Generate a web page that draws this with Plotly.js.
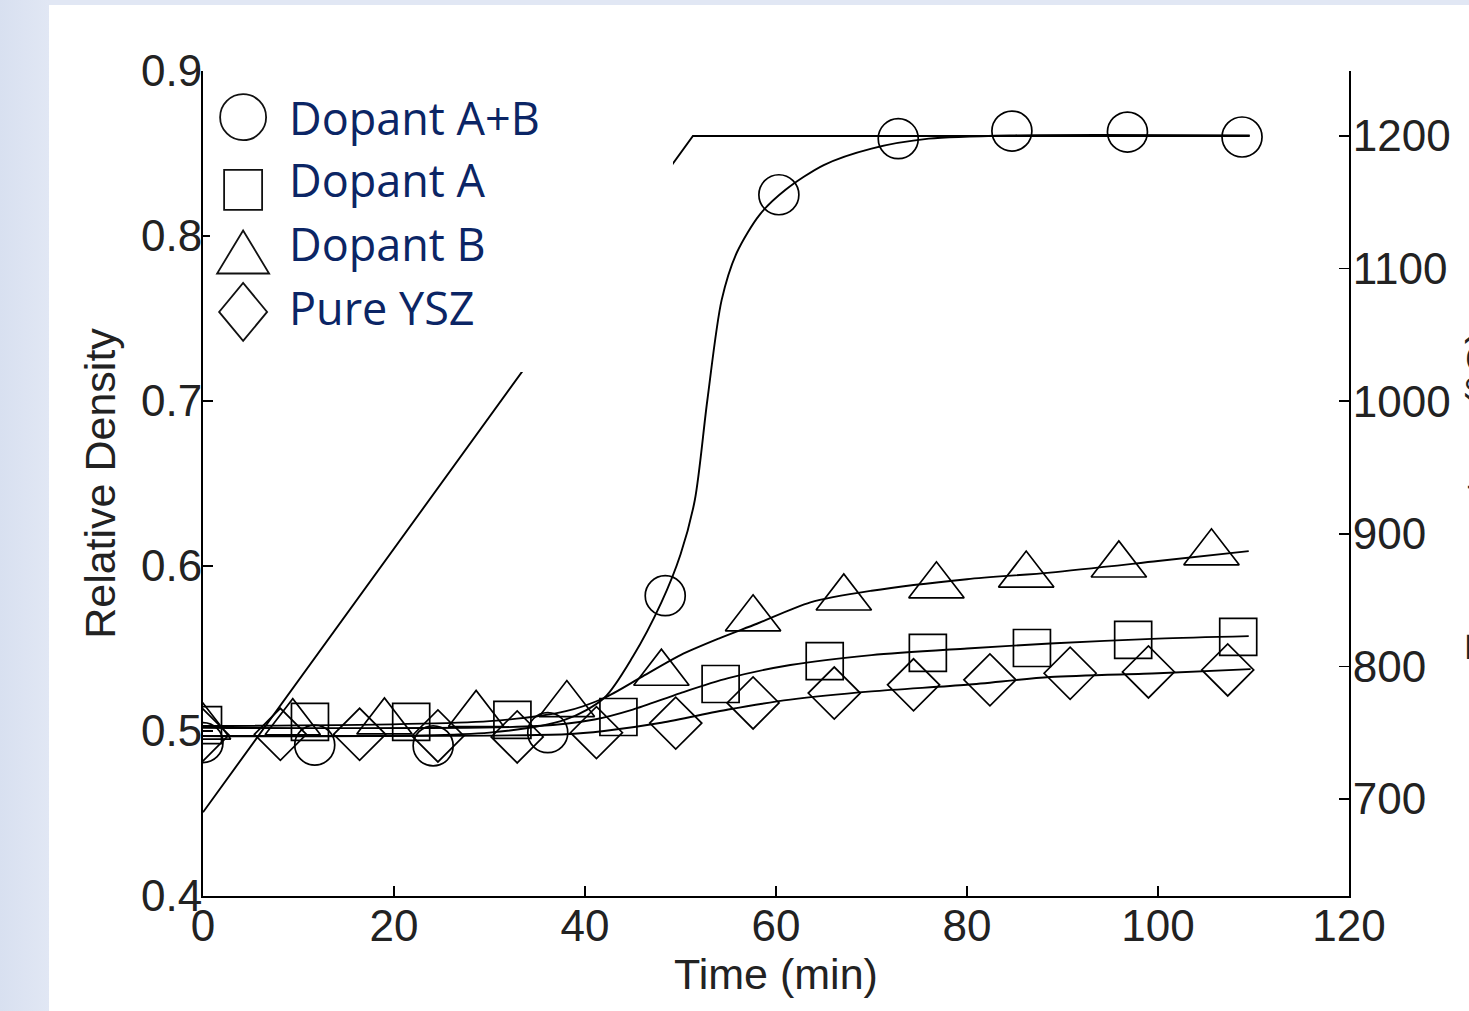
<!DOCTYPE html>
<html><head><meta charset="utf-8">
<script src="https://cdn.plot.ly/plotly-3.0.1.min.js"></script>
<style>
html,body{margin:0;padding:0;width:1469px;height:1011px;overflow:hidden;background:linear-gradient(90deg,#d8e0f0 0px,#e1e7f4 49px);}
#chart{position:absolute;left:49px;top:5px;width:1420px;height:1006px;background:#fff;}
</style></head><body><div id="chart"></div>
<script>
// ---- data ----
const seriesNames = ['Dopant A+B', 'Dopant A', 'Dopant B', 'Pure YSZ'];
const xTicks = [0, 20, 40, 60, 80, 100, 120];
const yTicks = [0.4, 0.5, 0.6, 0.7, 0.8, 0.9];
const tempTicks = [700, 800, 900, 1000, 1100, 1200];
const rightTitle = 'Temperature (°C)';

// measured points (markers)
const timeAB = [0, 11.7, 24.1, 36.1, 48.4, 60.3, 72.8, 84.7, 96.8, 108.8];
const densAB = [0.493, 0.4915, 0.491, 0.499, 0.582, 0.825, 0.859, 0.8636, 0.863, 0.860];
const timeA = [0, 11.2, 21.8, 32.4, 43.5, 54.2, 65.1, 75.9, 86.8, 97.4, 108.4];
const densA = [0.5036, 0.5055, 0.5055, 0.5067, 0.5085, 0.5285, 0.5424, 0.5473, 0.5503, 0.5552, 0.557];
const timeB = [0, 9.4, 19.0, 28.6, 38.1, 48.0, 57.6, 67.1, 76.8, 86.2, 95.9, 105.6];
const densB = [0.5024, 0.505, 0.5055, 0.510, 0.516, 0.535, 0.568, 0.5806, 0.588, 0.5945, 0.6006, 0.608];
const timeY = [0, 8.1, 16.4, 24.6, 32.9, 41.2, 49.5, 57.6, 66.1, 74.4, 82.4, 90.8, 99.0, 107.3];
const densY = [0.4976, 0.498, 0.498, 0.497, 0.4964, 0.499, 0.5048, 0.517, 0.523, 0.528, 0.531, 0.535, 0.5358, 0.537];

// fitted curves
const fitTimeAB = [0, 30, 38, 42, 45, 48, 50, 51.5, 52.8, 54.3, 55.9, 58.3, 61, 65, 70, 76, 85, 109.6];
const fitDensAB = [0.497, 0.499, 0.507, 0.520, 0.545, 0.578, 0.607, 0.640, 0.700, 0.761, 0.790, 0.813, 0.828, 0.843, 0.853, 0.859, 0.861, 0.861];
const fitTimeA = [0, 35, 41, 45, 50, 55, 61.5, 70, 80, 88.7, 100, 109.5];
const fitDensA = [0.502, 0.503, 0.507, 0.513, 0.523, 0.532, 0.540, 0.546, 0.550, 0.553, 0.556, 0.5575];
const fitTimeB = [0, 30, 38, 42, 46, 50, 54, 58, 63.6, 70, 80, 88.7, 100, 109.5];
const fitDensB = [0.503, 0.506, 0.512, 0.520, 0.533, 0.546, 0.556, 0.565, 0.578, 0.585, 0.592, 0.596, 0.603, 0.609];
const fitTimeY = [0, 38, 42, 48, 55, 61.5, 70, 80, 88.7, 100, 109.7];
const fitDensY = [0.497, 0.498, 0.500, 0.505, 0.513, 0.519, 0.524, 0.528, 0.5327, 0.535, 0.5375];

// temperature profile
const timeT = [0, 51.3, 109.6];
const tempT = [690, 1200, 1200];

// ---- styling ----
const symbols = ['circle-open', 'square-open', 'triangle-up-open', 'diamond-open'];
const sizes = [40, 37, 48, 40];
const markerX = [timeAB, timeA, timeB, timeY];
const markerY = [densAB, densA, densB, densY];
const fitX = [fitTimeAB, fitTimeA, fitTimeB, fitTimeY];
const fitY = [fitDensAB, fitDensA, fitDensB, fitDensY];

const traces = [];
traces.push({x: timeT, y: tempT, yaxis: 'y2', mode: 'lines', line: {color: '#000', width: 1.9}, showlegend: false, hoverinfo: 'skip'});
for (let i = 0; i < 4; i++) {
  traces.push({x: fitX[i], y: fitY[i], mode: 'lines', line: {color: '#000', width: 1.9, shape: 'spline', smoothing: 0.8}, showlegend: false, hoverinfo: 'skip'});
}
for (let i = 0; i < 4; i++) {
  traces.push({x: markerX[i], y: markerY[i], name: seriesNames[i], mode: 'markers',
    marker: {symbol: symbols[i], size: sizes[i], color: '#000', line: {width: 1.7, color: '#000'}}, showlegend: false});
}

const tickFont = {family: 'Liberation Sans, Arial, sans-serif', size: 44, color: '#222'};
const titleFont = {family: 'Liberation Sans, Arial, sans-serif', size: 43, color: '#222'};

// custom legend (large keys as in the original)
const legX = 0.035, legTextX = 0.0735;
const legRowsY = [0.944, 0.8558, 0.780, 0.708];
const textRowsY = [0.944, 0.868, 0.7915, 0.7135];
const shapes = [
  {type: 'rect', xref: 'paper', yref: 'paper', x0: 0.0061, x1: 0.4101, y0: 0.6352, y1: 0.989, fillcolor: '#fff', line: {width: 0}, layer: 'above'},
  {type: 'circle', xref: 'paper', yref: 'paper', xsizemode: 'pixel', ysizemode: 'pixel', xanchor: legX, yanchor: legRowsY[0], x0: -23, x1: 23, y0: -23, y1: 23, line: {color: '#111', width: 1.8}, layer: 'above'},
  {type: 'rect', xref: 'paper', yref: 'paper', xsizemode: 'pixel', ysizemode: 'pixel', xanchor: legX, yanchor: legRowsY[1], x0: -19, x1: 19, y0: -20, y1: 20, line: {color: '#111', width: 1.8}, layer: 'above'},
  {type: 'path', xref: 'paper', yref: 'paper', xsizemode: 'pixel', ysizemode: 'pixel', xanchor: legX, yanchor: legRowsY[2], path: 'M -26,-21 L 26,-21 L 0,22 Z', line: {color: '#111', width: 1.8}, layer: 'above'},
  {type: 'path', xref: 'paper', yref: 'paper', xsizemode: 'pixel', ysizemode: 'pixel', xanchor: legX, yanchor: legRowsY[3], path: 'M 0,-29 L 24,0 L 0,29 L -24,0 Z', line: {color: '#111', width: 1.8}, layer: 'above'}
];
const annotations = seriesNames.map((s, i) => ({
  text: s, xref: 'paper', yref: 'paper', x: legTextX, y: textRowsY[i], xanchor: 'left', yanchor: 'middle',
  showarrow: false, font: {family: 'Open Sans, Noto Sans, sans-serif', size: 45, color: '#0b2565'}
}));
// right-axis title: in the original it is cut off by the right edge of the picture
annotations.push({text: rightTitle, xref: 'paper', yref: 'paper', x: 1.0925, y: 0.486, xanchor: 'left', yanchor: 'middle',
  textangle: -90, showarrow: false, font: titleFont});

const layout = {
  width: 1420, height: 1006,
  margin: {l: 154, r: 120, t: 66, b: 115, pad: 0},
  paper_bgcolor: '#fff', plot_bgcolor: '#fff',
  showlegend: false,
  xaxis: {range: [0, 120], tickvals: xTicks, ticks: 'inside', ticklen: 10, tickwidth: 1.6, tickcolor: '#000',
    showline: true, linecolor: '#000', linewidth: 2, zeroline: false, showgrid: false,
    tickfont: tickFont, ticklabelstandoff: -10,
    title: {text: 'Time (min)', font: titleFont, standoff: 2}},
  yaxis: {range: [0.4, 0.9], tickvals: yTicks, tickformat: '.1f', ticks: 'inside', ticklen: 10, tickwidth: 1.6, tickcolor: '#000',
    showline: true, linecolor: '#000', linewidth: 2, zeroline: false, showgrid: false,
    tickfont: tickFont, ticklabelstandoff: -10,
    title: {text: 'Relative Density', font: titleFont, standoff: 12}},
  yaxis2: {overlaying: 'y', side: 'right', range: [626.85, 1249], tickvals: tempTicks, ticks: 'inside', ticklen: 10, tickwidth: 1.6, tickcolor: '#000',
    showline: true, linecolor: '#000', linewidth: 2, zeroline: false, showgrid: false,
    tickfont: tickFont, ticklabelstandoff: -7},
  shapes: shapes,
  annotations: annotations
};

Plotly.newPlot('chart', traces, layout, {displayModeBar: false, staticPlot: true});
</script></body></html>
